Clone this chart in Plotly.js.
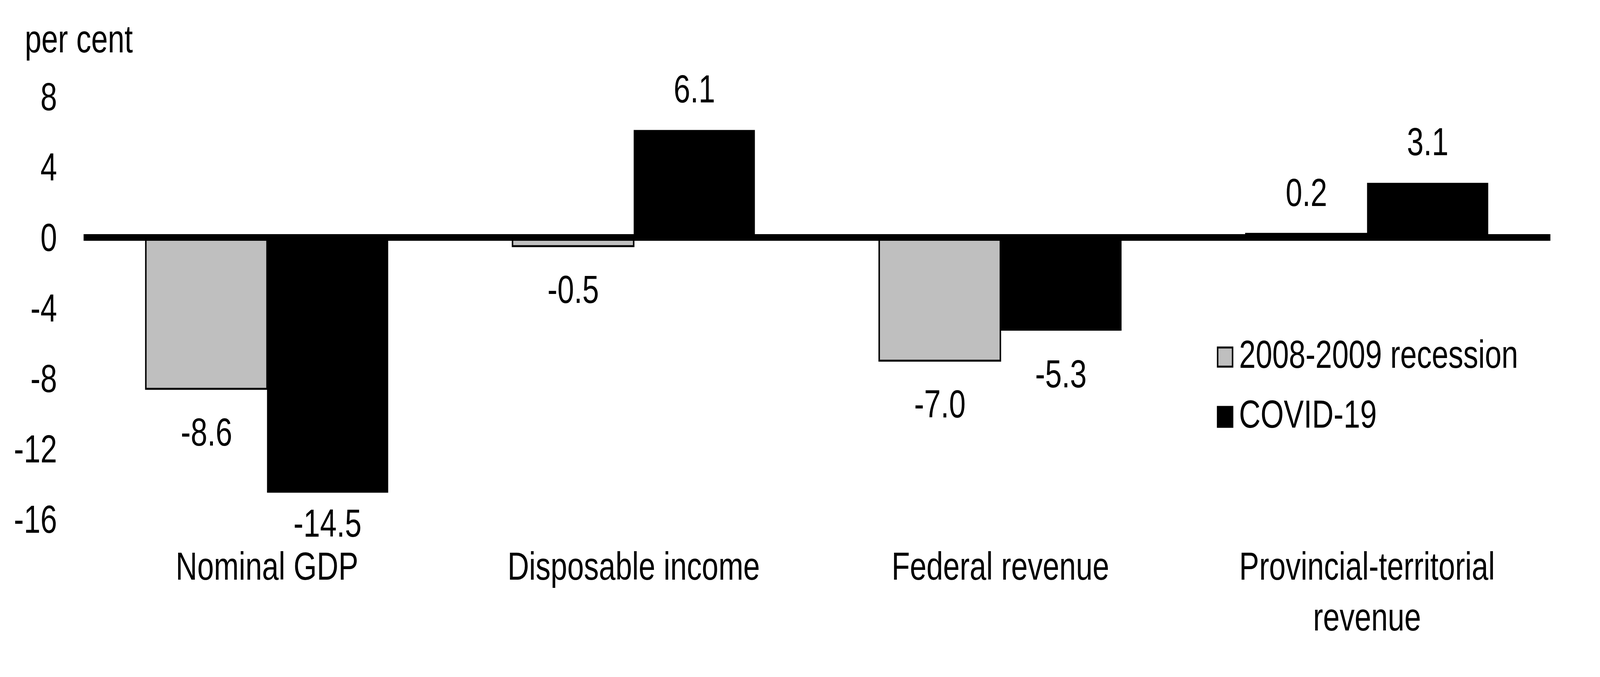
<!DOCTYPE html>
<html>
<head>
<meta charset="utf-8">
<script src="https://cdn.plot.ly/plotly-3.0.1.min.js"></script>
<style>
  html, body { margin: 0; padding: 0; background: #ffffff; overflow: hidden; }
  #chart { width: 5354px; height: 1732px; transform-origin: 0 0; }
</style>
</head>
<body>
<div id="chart"></div>
<script>
// ---- data ----
const categories = ["Nominal GDP", "Disposable income", "Federal revenue", "Provincial-territorial<br>revenue"];
const seriesNames = ["2008-2009 recession", "COVID-19"];
const recession = [-8.6, -0.5, -7.0, 0.2];
const covid = [-14.5, 6.1, -5.3, 3.1];
const yTickVals = [-16, -12, -8, -4, 0, 4, 8];
const yTickText = ["-16", "-12", "-8", "-4", "0", "4", "8"];
const yUnit = "per cent";

// ---- style / layout (drawn at 5354 x 1732, fitted to the viewport) ----
const W = 5354, H = 1732;
const M = { l: 280, r: 166, t: 246.5, b: 404 };
const FONT = "'Liberation Sans', Arial, Helvetica, sans-serif";
const FS = 100;
const barGap = 0.339;
const colors = ["#BFBFBF", "#000000"];
const plotW = W - M.l - M.r;
const catW = plotW / categories.length;
const barW = catW * (1 - barGap) / 2;
// gap (px) between the bar end and the value label, per series
const labelGap = [[72, 72, 72, 70], [40, 70, 72, 70]];

const fitX = Math.min(1, (window.innerWidth || W) / W);
const fitY = Math.min(1, (window.innerHeight || H) / H);
document.getElementById("chart").style.transform = "scale(" + fitX + "," + fitY + ")";

const series = [recession, covid];

const traces = series.map((vals, s) => ({
  type: "bar",
  x: categories,
  y: vals,
  name: seriesNames[s],
  marker: {
    color: colors[s],
    line: { color: "#000000", width: s === 0 ? 5 : 0 }
  },
  hoverinfo: "skip",
  showlegend: false
}));

const annotations = [];
series.forEach((vals, s) => {
  vals.forEach((v, i) => {
    const g = labelGap[s][i];
    annotations.push({
      x: categories[i], y: v, xref: "x", yref: "y",
      xshift: (s === 0 ? -1 : 1) * barW / 2,
      text: v.toFixed(1),
      showarrow: false,
      xanchor: "center",
      yanchor: v < 0 ? "top" : "bottom",
      yshift: v < 0 ? -(g - 20) : (g - 22),
      font: { family: FONT, size: FS, color: "#000" }
    });
  });
});

// unit label
annotations.push({
  xref: "paper", yref: "paper", x: 0, y: 1,
  xanchor: "left", yanchor: "bottom",
  xshift: -199, yshift: 90,
  text: yUnit, showarrow: false,
  font: { family: FONT, size: FS, color: "#000" }
});

// legend (text)
const legendTextShift = [-659, -812];
seriesNames.forEach((n, s) => {
  annotations.push({
    xref: "paper", yref: "paper", x: 1, y: 1,
    xanchor: "left", yanchor: "middle",
    xshift: -1044, yshift: legendTextShift[s],
    text: n, showarrow: false,
    font: { family: FONT, size: FS, color: "#000" }
  });
});

// legend (swatches)
const shapes = [
  {
    type: "rect", xref: "paper", yref: "paper",
    xsizemode: "pixel", ysizemode: "pixel", xanchor: 1, yanchor: 1,
    x0: -1113.5, x1: -1063.5, y0: -642, y1: -691,
    fillcolor: colors[0], line: { color: "#000", width: 5 }
  },
  {
    type: "rect", xref: "paper", yref: "paper",
    xsizemode: "pixel", ysizemode: "pixel", xanchor: 1, yanchor: 1,
    x0: -1116, x1: -1061, y0: -791.5, y1: -847.5,
    fillcolor: colors[1], line: { width: 0 }
  }
];

const layout = {
  width: W, height: H,
  margin: M,
  paper_bgcolor: "#ffffff",
  plot_bgcolor: "#ffffff",
  font: { family: FONT, size: FS, color: "#000" },
  barmode: "group",
  bargap: barGap,
  bargroupgap: 0,
  showlegend: false,
  xaxis: {
    type: "category",
    showgrid: false, zeroline: false, showline: false,
    ticks: "",
    tickfont: { family: FONT, size: FS, color: "#000" },
    ticklabelstandoff: 54,
    fixedrange: true
  },
  yaxis: {
    range: [-16, 8],
    tickvals: yTickVals,
    ticktext: yTickText,
    showgrid: false, showline: false,
    ticks: "",
    zeroline: true, zerolinecolor: "#000000", zerolinewidth: 17,
    zerolinelayer: "above traces",
    tickfont: { family: FONT, size: FS, color: "#000" },
    ticklabelstandoff: 88,
    fixedrange: true
  },
  annotations: annotations,
  shapes: shapes
};

Plotly.newPlot("chart", traces, layout, { staticPlot: true, displayModeBar: false });
</script>
</body>
</html>
